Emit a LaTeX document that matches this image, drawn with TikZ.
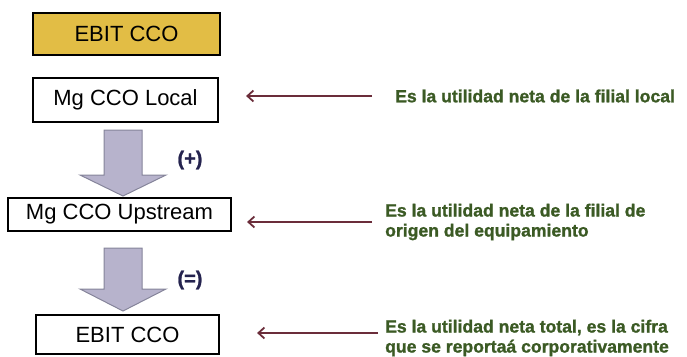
\documentclass[tikz,border=0pt]{standalone}
\usepackage{fontspec}
\setmainfont{Liberation Sans}
\newfontfamily\heavyfont[FakeBold=1.2]{Liberation Sans Bold}
\usetikzlibrary{arrows.meta,calc}
\definecolor{gold}{HTML}{E2BD45}
\definecolor{arrowfill}{HTML}{B7B3CC}
\definecolor{arrowline}{HTML}{85849A}
\definecolor{maroon}{HTML}{6B2D3A}
\definecolor{olive}{HTML}{3B5A24}
\definecolor{navy}{HTML}{25234F}
\tikzset{
  box/.style={draw=black, line width=2.2pt, inner sep=0pt, font=\fontsize{22}{24}\selectfont},
  note/.style={text=olive, font=\heavyfont\fontsize{17.6}{20}\selectfont, align=left, inner sep=0pt, anchor=west},
  conn/.style={draw=maroon, line width=2pt, -{Straight Barb[length=6pt,width=11pt,line width=1.8pt]}},
  blockarrow/.style={fill=arrowfill, draw=arrowline, line width=1pt, line join=miter},
  sign/.style={text=navy, font=\heavyfont\fontsize{20}{22}\selectfont, inner sep=0pt}
}
\begin{document}
\begin{tikzpicture}[x=1pt,y=-1pt]
\useasboundingbox (0,0) rectangle (687,356);
\node[box, fill=gold, minimum width=187pt, minimum height=42pt] (ebittop) at (126.5,34) {EBIT CCO};
\node[box, fill=white, minimum width=185pt, minimum height=44pt] (local) at (125.5,100) {Mg CCO Local};
\node[box, fill=white, minimum width=223pt, minimum height=33pt] (up) at (119.5,214.5) {Mg CCO Upstream};
\node[box, fill=white, minimum width=183pt, minimum height=39pt] (ebit) at (127.5,334.5) {EBIT CCO};

\draw[blockarrow] (104,130) -- (142,130) -- (142,175) -- (166,175) -- (123,196) -- (80,175) -- (104,175) -- cycle;
\draw[blockarrow] (104,248) -- (142,248) -- (142,289) -- (166,289) -- (123,311) -- (80,289) -- (104,289) -- cycle;

\node[sign] (plus) at (190,160) {(+)};
\node[sign] (eq) at (190,280) {(=)};

\node[note] (t1) at (395,96) {Es la utilidad neta de la filial local};
\node[note] (t2) at (385,222) {Es la utilidad neta de la filial de\\origen del equipamiento};
\node[note] (t3) at (385,338) {Es la utilidad neta total, es la cifra\\que se reportaá corporativamente};

\draw[conn, shorten <=23pt, shorten >=27pt] (t1.west) -- (t1.west -| local.east);
\draw[conn, shorten <=13pt, shorten >=15pt] (t2.west) -- (t2.west -| up.east);
\draw[conn, shorten <=7pt, shorten >=37pt] ([yshift=5pt]t3.west) -- ([yshift=5pt]t3.west -| ebit.east);
\end{tikzpicture}
\end{document}
